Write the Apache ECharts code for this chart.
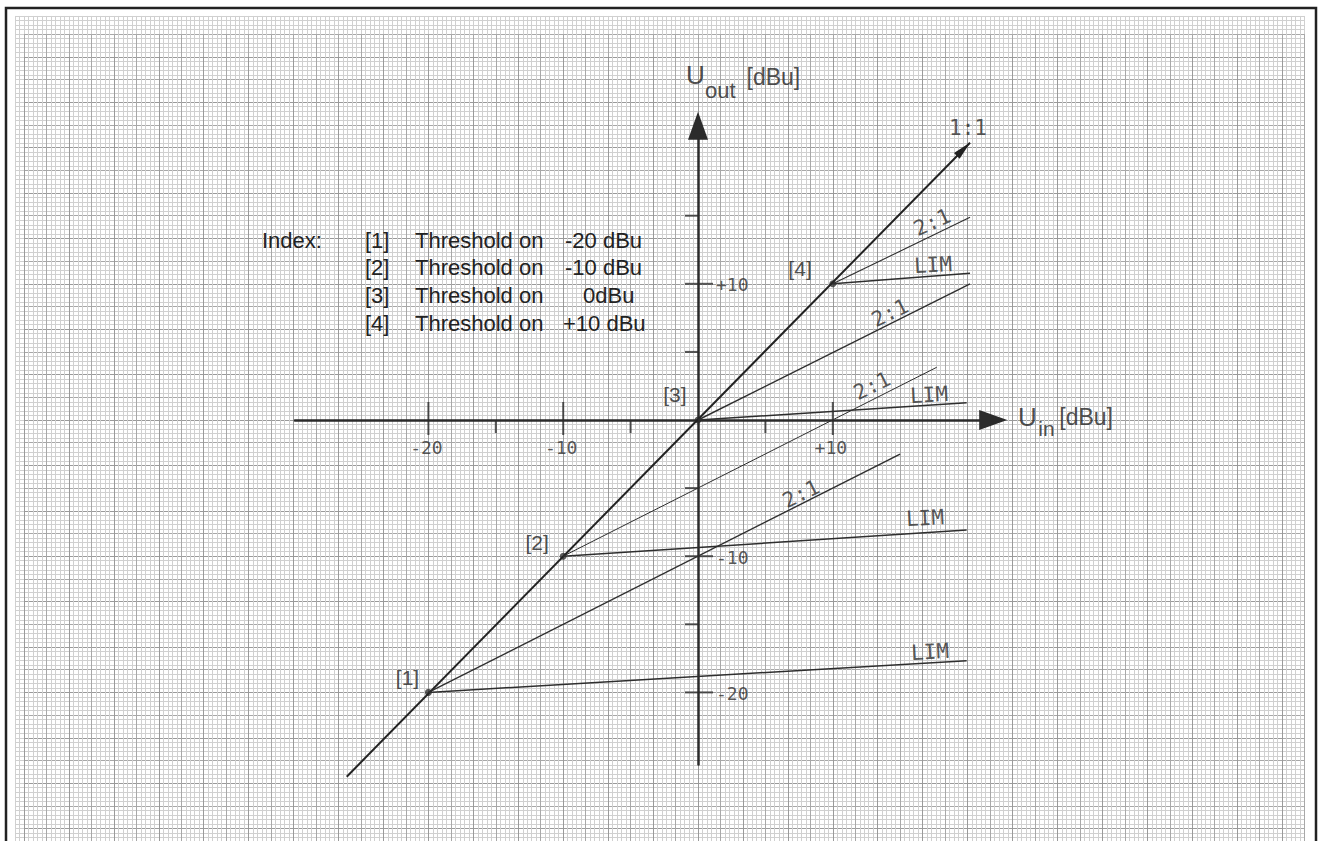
<!DOCTYPE html>
<html>
<head>
<meta charset="utf-8">
<script src="https://cdn.jsdelivr.net/npm/echarts@6/dist/echarts.min.js"></script>
<style>
  html, body { margin: 0; padding: 0; background: #fff; }
  #main { width: 1318px; height: 841px; }
</style>
</head>
<body>
<div id="main"></div>
<script>
// compressor thresholds [1]..[4] (dBu, on the 1:1 line)
const thresholds = [-20, -10, 0, 10];
// where each 2:1 line ends
const ratioEnds = [[14.99, -2.5], [17.71, 3.87], [20.18, 9.99], [20.18, 14.88]];
// where each LIM line ends
const limEnds = [[19.93, -17.67], [19.93, -8.08], [19.93, 1.27], [20.18, 10.77]];
// the 1:1 line
const unityLine = [[-26.06, -26.19], [20.18, 20.36]];

const xMajorTicks = [-20, -10, 10];
const xMinorTicks = [-15, -5, 5];
const yMajorTicks = [-20, -10, 10];
const yMinorTicks = [-15, -5, 5, 15];
const xTickLabels = ['-20', '-10', '+10'];
const yTickLabels = ['-20', '-10', '+10'];

const bracketLabels = ['[1]', '[2]', '[3]', '[4]'];
const indexValues = ['-20 dBu', '-10 dBu', '0dBu', '+10 dBu'];

// page geometry of the drawing
const X0 = 698, Y0 = 420;          // origin
const SX = 13.48, SY = 13.62;      // px per dBu
const MX = SX / 3, MY = SY / 3;    // px per mm (10 dBu = 3 cm)
const xRange = [-29.9, 21.9];
const yRange = [-25.3, 21.6];

// graph paper: 1 mm, 5 mm, 1 cm
const paper = [
  { step: 1, x: [-152, 135], y: [-95, 89], color: '#d0d0d0' },
  { step: 5, x: [-150, 135], y: [-95, 85], color: '#a8a8a8' },
  { step: 10, x: [-150, 130], y: [-100, 80], color: '#9a9a9a' }
];

const grids = paper.map(p => ({
  left: X0 + p.x[0] * MX,
  top: Y0 - p.y[1] * MY,
  width: (p.x[1] - p.x[0]) * MX,
  height: (p.y[1] - p.y[0]) * MY,
  containLabel: false,
  outerBoundsMode: 'none'
}));
grids.push({
  left: X0 + xRange[0] * SX,
  top: Y0 - yRange[1] * SY,
  width: (xRange[1] - xRange[0]) * SX,
  height: (yRange[1] - yRange[0]) * SY,
  containLabel: false,
  outerBoundsMode: 'none'
});

const paperAxis = (p, i, r) => ({
  type: 'value', gridIndex: i, min: r[0], max: r[1], interval: p.step,
  axisLine: { show: false }, axisTick: { show: false }, axisLabel: { show: false },
  splitLine: { show: true, lineStyle: { color: p.color, width: 1 } }
});

const dataAxis = r => ({
  type: 'value', gridIndex: 3, min: r[0], max: r[1], z: 3,
  axisLine: {
    onZero: true, symbol: ['none', 'triangle'], symbolSize: [20, 28],
    lineStyle: { color: '#2b2b2b', width: 2.5 }
  },
  axisTick: { show: false }, axisLabel: { show: false }, splitLine: { show: false }
});

const xAxes = paper.map((p, i) => paperAxis(p, i, p.x));
xAxes.push(dataAxis(xRange));
const yAxes = paper.map((p, i) => paperAxis(p, i, p.y));
yAxes.push(dataAxis(yRange));

const ink = '#2e2e2e';
const hand = { fontFamily: 'DejaVu Sans Mono', color: ink };
const print = { fontFamily: 'Liberation Sans', color: '#222' };
const on = { xAxisIndex: 3, yAxisIndex: 3, silent: true, clip: false };

const series = [];

series.push(Object.assign({
  type: 'line', symbol: 'none', showSymbol: true,
  lineStyle: { color: '#222', width: 2 }, itemStyle: { color: '#222' },
  data: [unityLine[0], {
    value: unityLine[1], symbol: 'triangle', symbolSize: [8, 19],
    symbolRotate: -45, symbolOffset: [-6.5, 6.5]
  }]
}, on));

const ratioWidths = [1.4, 1, 1.4, 1.1];
thresholds.forEach((t, i) => {
  series.push(Object.assign({
    type: 'line', symbol: 'none',
    lineStyle: { color: ink, width: ratioWidths[i] },
    data: [[t, t], ratioEnds[i]]
  }, on));
  series.push(Object.assign({
    type: 'line', symbol: 'none',
    lineStyle: { color: ink, width: 1.5 },
    data: [[t, t], limEnds[i]]
  }, on));
});

series.push(Object.assign({
  type: 'scatter', symbol: 'circle', symbolSize: 7, itemStyle: { color: '#333' },
  data: thresholds.map(t => [t, t])
}, on));

// axis ticks
const tick = (data, size, offset) => Object.assign({
  type: 'scatter', symbol: 'rect', symbolSize: size, symbolOffset: offset,
  itemStyle: { color: ink }, data
}, on);
series.push(tick(xMajorTicks.map(v => [v, 0]), [2, 33], [0, -1.5]));
series.push(tick(xMinorTicks.map(v => [v, 0]), [2, 12], [0, 7]));
series.push(tick(yMajorTicks.map(v => [0, v]), [28, 2], [1, 0]));
series.push(tick(yMinorTicks.map(v => [0, v]), [13, 2], [-6.5, 0]));

// text placed in chart units
const notes = (items, style) => Object.assign({
  type: 'scatter', symbolSize: 0,
  label: Object.assign({ show: true, position: 'inside', formatter: '{b}' }, style),
  data: items
}, on);

series.push(notes(xMajorTicks.map((v, i) => ({
  name: xTickLabels[i], value: [v, 0], label: { offset: [-2, 27] }
})), Object.assign({ fontSize: 18 }, hand)));
series.push(notes(yMajorTicks.map((v, i) => ({
  name: yTickLabels[i], value: [0, v], label: { align: 'left', offset: [18, 1] }
})), Object.assign({ fontSize: 18 }, hand)));

const bracketPos = [[-21.55, -18.87], [-11.94, -9.03], [-1.71, 1.84], [7.57, 11.16]];
series.push(notes(bracketLabels.map((b, i) => ({ name: b, value: bracketPos[i] })),
  Object.assign({ fontSize: 21 }, print)));

const lineNotes = [
  ['1:1', 20.03, 21.44, 0],
  ['2:1', 17.36, 14.54, 24], ['LIM', 17.43, 11.38, 3],
  ['2:1', 14.24, 7.86, 26], ['LIM', 17.14, 1.84, 3],
  ['2:1', 12.91, 2.5, 26], ['LIM', 16.84, -7.2, 3],
  ['2:1', 7.64, -5.43, 26], ['LIM', 17.21, -17.03, 3]
];
series.push(notes(lineNotes.map(n => ({
  name: n[0], value: [n[1], n[2]], label: { rotate: n[3] }
})), Object.assign({ fontSize: 21 }, hand)));

// axis titles U_out [dBu], U_in [dBu]
const titles = [
  ['U', -0.89, 25.33, 26], ['out', 0.52, 24.16, 22], ['[dBu]', 3.6, 25.18, 23],
  ['U', 23.74, 0.22, 26], ['in', 25.25, -0.59, 21], ['[dBu]', 26.8, 0.22, 23]
];
series.push(notes(titles.map(t => ({
  name: t[0], value: [t[1], t[2]], label: { align: 'left', fontSize: t[3] }
})), print));

// index block
const graphic = [];
const idxText = (text, x, y) => ({
  type: 'text', x, y, z: 10, silent: true,
  style: {
    text, fontSize: 22, fontFamily: 'Liberation Sans',
    fill: '#222', verticalAlign: 'middle'
  }
});
const rowY = [240, 267, 295, 323];
const valueX = [565, 565, 583, 563];
graphic.push(idxText('Index:', 262, rowY[0]));
bracketLabels.forEach((b, i) => {
  graphic.push(idxText(b, 365, rowY[i]));
  graphic.push(idxText('Threshold on', 415, rowY[i]));
  graphic.push(idxText(indexValues[i], valueX[i], rowY[i]));
});
// sheet frame
graphic.push({
  type: 'rect', z: 100, silent: true,
  shape: { x: 6, y: 8, width: 1310, height: 900 },
  style: { fill: 'none', stroke: '#222', lineWidth: 2.5 }
});

const chart = echarts.init(document.getElementById('main'), null, { renderer: 'svg' });
chart.setOption({
  animation: false,
  backgroundColor: '#fff',
  grid: grids,
  xAxis: xAxes,
  yAxis: yAxes,
  graphic,
  series
});
</script>
</body>
</html>
